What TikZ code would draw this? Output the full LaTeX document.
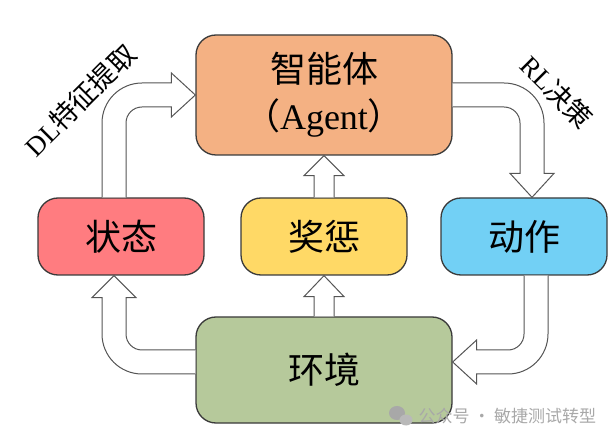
\documentclass[tikz,border=0pt]{standalone}
\usepackage{fontspec}
\setmainfont{Liberation Serif}
\newfontfamily\cjk{Noto Sans CJK SC}
\usepackage{xcolor}
\usepackage{tikz}
\usetikzlibrary{calc}

\definecolor{agentc}{HTML}{F4B183}
\definecolor{statec}{HTML}{FF7C80}
\definecolor{rewardc}{HTML}{FFD966}
\definecolor{actionc}{HTML}{72D0F5}
\definecolor{envc}{HTML}{B6C99B}
\definecolor{boxline}{HTML}{3A3A3A}
\definecolor{arrowline}{HTML}{555555}
\definecolor{markc}{HTML}{A8A8A8}

\tikzset{
  box/.style={draw=boxline, line width=1.3pt, rounded corners=20pt,
    minimum width=166pt, minimum height=77pt, inner sep=0pt,
    font=\cjk\fontsize{36}{47}\selectfont},
  bigbox/.style={box, minimum width=256pt},
  blockarrow/.style={draw=arrowline, fill=white, line width=1pt},
  tag/.style={font=\fontsize{27}{30}\selectfont},
}

\begin{document}
\begin{tikzpicture}[x=1pt,y=1pt]
		\useasboundingbox (0,0) rectangle (616,442);

		% the five boxes
		\node[bigbox, fill=agentc, minimum height=120pt, align=center] (agent) at (324,347) {智能体\\（\rmfamily Agent\cjk ）};
		\node[box, fill=statec] (state) at (121,205.5) {状态};
		\node[box, fill=rewardc] (reward) at (324,205.5) {奖惩};
		\node[box, fill=actionc] (action) at (524,205.5) {动作};
		\node[bigbox, fill=envc, minimum height=106pt] (env) at (324,72) {环境};

		% state to agent (DL)
		\coordinate (sa) at (state.north |- agent.west);
		\filldraw[blockarrow] ($(state.north)+(-19,0)$) -- ($(sa)+(-19,-28)$)
			arc[start angle=180, end angle=90, radius=40]
			-- ($(agent.west)+(-24,12)$) -- ++(0,10) -- (agent.west) -- ++(-24,-22) -- ++(0,10)
			-- ($(sa)+(21,-12)$) arc[start angle=90, end angle=180, radius=16]
			-- ($(state.north)+(5,0)$);

		% agent to action (RL)
		\coordinate (aa) at (action.north |- agent.east);
		\filldraw[blockarrow] ($(agent.east)+(0,12)$) -- ($(aa)+(-20,12)$)
			arc[start angle=90, end angle=0, radius=40]
			-- ($(action.north)+(20,24)$) -- ++(10,0) -- ($(action.north)+(8,0)$) -- ++(-22,24) -- ++(10,0)
			-- ($(aa)+(-4,-28)$) arc[start angle=0, end angle=90, radius=16]
			-- ($(agent.east)+(0,-12)$);

		% reward to agent, env to reward
		\filldraw[blockarrow] ($(reward.north)+(-10,0)$) -- ($(agent.south)+(-10,-20)$) -- ++(-10,0)
			-- (agent.south) -- ++(20,-20) -- ++(-10,0) -- ($(reward.north)+(10,0)$);
		\filldraw[blockarrow] ($(env.north)+(-10,0)$) -- ($(reward.south)+(-10,-21)$) -- ++(-10,0)
			-- (reward.south) -- ++(20,-21) -- ++(-10,0) -- ($(env.north)+(10,0)$);

		% env to state
		\coordinate (es) at (state.south |- env.west);
		\filldraw[blockarrow] ($(env.west)+(0,20)$) -- ($(es)+(21,20)$)
			arc[start angle=270, end angle=180, radius=16]
			-- ($(state.south)+(5,-22)$) -- ++(10,0) -- ($(state.south)+(-7,0)$) -- ++(-22,-22) -- ++(10,0)
			-- ($(es)+(-19,36)$) arc[start angle=180, end angle=270, radius=40]
			-- ($(env.west)+(0,-4)$);

		% action to env
		\coordinate (ae) at (action.south |- env.east);
		\filldraw[blockarrow] (action.south) -- ($(ae)+(0,36)$)
			arc[start angle=0, end angle=-90, radius=16]
			-- ($(env.east)+(24,20)$) -- ++(0,10) -- ($(env.east)+(0,8)$) -- ++(24,-22) -- ++(0,10)
			-- ($(ae)+(-16,-4)$) arc[start angle=270, end angle=360, radius=40]
			-- ($(action.south)+(24,0)$);

		% arrow labels
		\node[tag, rotate=45] (dl) at (80,342) {DL{\cjk 特征提取}};
		\node[tag, rotate=-45] (rl) at (557,350) {RL{\cjk 决策}};

		% watermark
		\fill[markc] (397,29) ellipse (8 and 7);
		\fill[markc!80] (406,22) ellipse (6.5 and 5.5);
		\node[anchor=west, font=\cjk\fontsize{17}{20}\selectfont, text=markc] (mark) at (415,26) {公众号 · 敏捷测试转型};
	\end{tikzpicture}
\end{document}
